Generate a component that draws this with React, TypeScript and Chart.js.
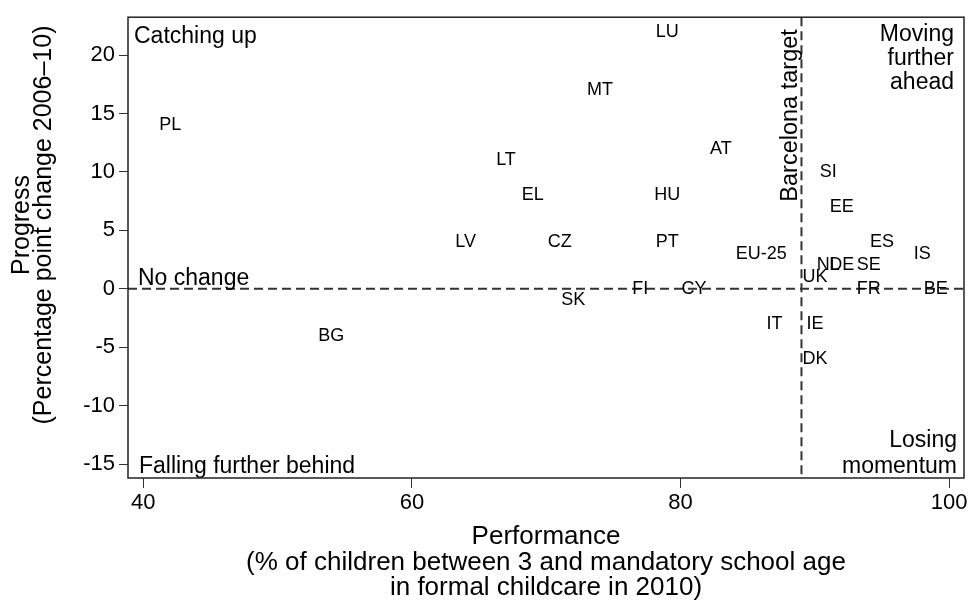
import { useEffect, useRef } from "react";
import { Chart, registerables } from "chart.js";

Chart.register(...registerables);

const FONT = "'Liberation Sans', Arial, sans-serif";

const countries = ["PL", "LU", "MT", "LT", "EL", "AT", "HU", "SI", "EE", "LV", "CZ", "PT", "EU-25", "ES", "IS", "NL", "DE", "SE", "UK", "FI", "CY", "FR", "BE", "SK", "IT", "IE", "DK", "BG"];
const performance = [42, 79, 74, 67, 69, 83, 79, 91, 92, 64, 71, 79, 86, 95, 98, 91, 92, 94, 90, 77, 81, 94, 99, 72, 87, 90, 90, 54];
const progress = [14, 22, 17, 11, 8, 12, 8, 10, 7, 4, 4, 4, 3, 4, 3, 2, 2, 2, 1, 0, 0, 0, 0, -1, -3, -3, -6, -4];

const xTicks = [40, 60, 80, 100];
const yTicks = [-15, -10, -5, 0, 5, 10, 15, 20];
const xRange = [38.86, 101.1];
const yRange = [-16.19, 23.24];

const barcelonaTarget = 89;
const noChange = 0;

const xTitle = ["Performance", "(% of children between 3 and mandatory school age", "in formal childcare in 2010)"];
const yTitle = ["Progress", "(Percentage point change 2006\u201310)"];
const quadrantTopLeft = "Catching up";
const quadrantTopRight = ["Moving", "further", "ahead"];
const quadrantBottomLeft = "Falling further behind";
const quadrantBottomRight = ["Losing", "momentum"];
const noChangeLabel = "No change";
const targetLabel = "Barcelona target";

const overlayPlugin = {
  id: "overlay",
  afterDatasetsDraw(chart: any) {
    const { ctx, chartArea: a, scales } = chart;
    const xs = scales.x;
    const ys = scales.y;
    ctx.save();

    // reference lines
    ctx.strokeStyle = "#333";
    ctx.lineWidth = 2;
    ctx.setLineDash([9, 5]);
    const y0 = ys.getPixelForValue(noChange);
    ctx.beginPath();
    ctx.moveTo(a.left, y0);
    ctx.lineTo(a.right, y0);
    ctx.stroke();
    const xb = xs.getPixelForValue(barcelonaTarget);
    ctx.beginPath();
    ctx.moveTo(xb, a.top);
    ctx.lineTo(xb, a.bottom);
    ctx.stroke();
    ctx.setLineDash([]);

    // country labels
    const meta = chart.getDatasetMeta(0);
    ctx.fillStyle = "#000";
    ctx.font = `18px ${FONT}`;
    ctx.textAlign = "center";
    ctx.textBaseline = "middle";
    meta.data.forEach((pt: any, i: number) => {
      ctx.fillText(countries[i], pt.x, pt.y);
    });

    // quadrant texts
    ctx.font = `23px ${FONT}`;
    ctx.textBaseline = "alphabetic";
    ctx.textAlign = "left";
    ctx.fillText(quadrantTopLeft, a.left + 6, a.top + 25.5);
    ctx.fillText(noChangeLabel, a.left + 10, y0 - 4);
    ctx.fillText(quadrantBottomLeft, a.left + 11, a.bottom - 5.5);
    ctx.textAlign = "right";
    quadrantTopRight.forEach((t, i) => ctx.fillText(t, a.right - 10, a.top + 24 + i * 24));
    quadrantBottomRight.forEach((t, i) => ctx.fillText(t, a.right - 7, a.bottom - 31.5 + i * 26));

    // Barcelona target label
    ctx.save();
    ctx.font = `23.5px ${FONT}`;
    ctx.translate(xb - 4, a.top + 12);
    ctx.rotate(-Math.PI / 2);
    ctx.textAlign = "right";
    ctx.fillText(targetLabel, 0, 0);
    ctx.restore();

    // y axis title
    ctx.save();
    ctx.font = `25px ${FONT}`;
    ctx.textAlign = "center";
    ctx.textBaseline = "middle";
    ctx.translate(22, 225);
    ctx.rotate(-Math.PI / 2);
    yTitle.forEach((t, i) => ctx.fillText(t, 0, i * 22));
    ctx.restore();

    // frame
    ctx.strokeStyle = "#222";
    ctx.lineWidth = 1.5;
    ctx.strokeRect(a.left, a.top, a.right - a.left, a.bottom - a.top);
    ctx.restore();
  },
};

export default function App() {
  const ref = useRef<HTMLCanvasElement | null>(null);

  useEffect(() => {
    document.body.style.margin = "0";
    const canvas = ref.current;
    if (!canvas) return;
    const chart = new Chart(canvas, {
      type: "scatter",
      data: {
        datasets: [
          {
            data: performance.map((x, i) => ({ x, y: progress[i] })),
            pointRadius: 0,
            pointHoverRadius: 0,
            backgroundColor: "#000",
          },
        ],
      },
      options: {
        animation: false,
        responsive: false,
        devicePixelRatio: 1,
        layout: { padding: { left: 0, top: 13.5, right: 9, bottom: 0 } },
        plugins: { legend: { display: false }, tooltip: { enabled: false } },
        scales: {
          x: {
            type: "linear",
            min: xRange[0],
            max: xRange[1],
            afterBuildTicks: (s: any) => {
              s.ticks = xTicks.map((v) => ({ value: v }));
            },
            afterFit: (s: any) => {
              s.height = 124;
            },
            grid: { drawOnChartArea: false, drawTicks: true, tickLength: 10, color: "#333", lineWidth: 1 },
            border: { display: false },
            ticks: {
              color: "#000",
              font: { size: 22, family: FONT },
              padding: 2,
              maxRotation: 0,
              autoSkip: false,
            },
            title: {
              display: true,
              text: xTitle,
              color: "#000",
              font: { size: 26, family: FONT, lineHeight: 0.98 },
              padding: { top: 0, bottom: 1 },
            },
          },
          y: {
            type: "linear",
            min: yRange[0],
            max: yRange[1],
            afterBuildTicks: (s: any) => {
              s.ticks = yTicks.map((v) => ({ value: v }));
            },
            afterFit: (s: any) => {
              s.width = 128;
            },
            grid: { drawOnChartArea: false, drawTicks: true, tickLength: 9, color: "#333", lineWidth: 1 },
            border: { display: false },
            ticks: {
              color: "#000",
              font: { size: 22, family: FONT },
              padding: 4,
              autoSkip: false,
            },
          },
        },
      },
      plugins: [overlayPlugin],
    });
    return () => chart.destroy();
  }, []);

  return (
    <div style={{ width: 973, height: 602 }}>
      <canvas ref={ref} width={973} height={602} style={{ display: "block" }} />
    </div>
  );
}
